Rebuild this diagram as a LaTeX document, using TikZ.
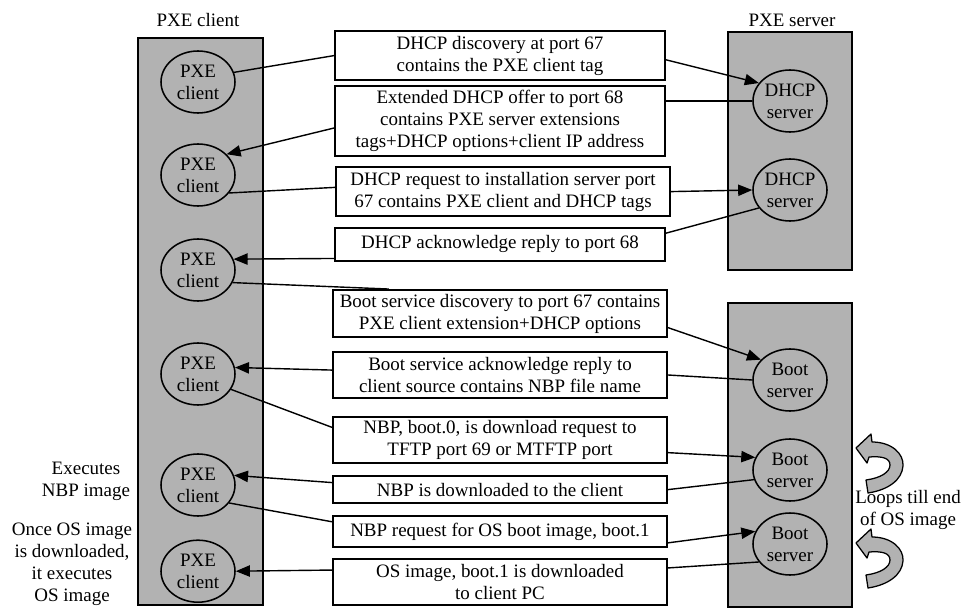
\documentclass[tikz,border=0pt]{standalone}
\usepackage{fontspec}
\setmainfont{Liberation Serif}
\usetikzlibrary{shapes.geometric, arrows.meta}

\begin{document}
\begin{tikzpicture}[
    font=\fontsize{13.5}{15.6}\selectfont,
    col/.style={draw, line width=1.5pt, fill=black!30},
    host/.style={draw, ellipse, line width=1.1pt, minimum width=1.85cm, minimum height=1.55cm, inner sep=0pt, align=center},
    msg/.style={draw, line width=1.5pt, fill=white, minimum width=8.25cm, inner sep=1pt, align=center},
    link/.style={line width=1pt},
    flow/.style={link, -{Triangle[length=10pt, width=8pt]}},
    loopmark/.style={draw, line width=0.9pt, fill=black!30, line join=round}
]
\useasboundingbox (0, 0) rectangle (24.1, -15.275);

\draw[col] (3.45, -0.95) rectangle (6.575, -15.125);
\draw[col] (18.2, -0.8) rectangle (21.3, -6.75);
\draw[col] (18.2, -7.575) rectangle (21.3, -15.175);

\node (clienttitle) at (4.95, -0.5) {PXE client};
\node (servertitle) at (19.8, -0.5) {PXE server};

\node[host] (c1) at (4.95, -2.05) {PXE\\client};
\node[host] (c2) at (4.95, -4.375) {PXE\\client};
\node[host] (c3) at (4.95, -6.75) {PXE\\client};
\node[host] (c4) at (4.95, -9.35) {PXE\\client};
\node[host] (c5) at (4.95, -12.125) {PXE\\client};
\node[host] (c6) at (4.95, -14.28) {PXE\\client};

\node[host] (s1) at (19.75, -2.525) {DHCP\\server};
\node[host] (s2) at (19.75, -4.75) {DHCP\\server};
\node[host] (t1) at (19.75, -9.5) {Boot\\server};
\node[host] (t2) at (19.75, -11.75) {Boot\\server};
\node[host] (t3) at (19.75, -13.6) {Boot\\server};

\node[msg, minimum height=1.225cm] (b1) at (12.5, -1.39) {DHCP discovery at port 67\\contains the PXE client tag};
\node[msg, minimum height=1.75cm] (b2) at (12.5, -3.025) {Extended DHCP offer to port 68\\contains PXE server extensions\\tags+DHCP options+client IP address};
\node[msg, minimum height=1.225cm, minimum width=8.35cm] (b3) at (12.575, -4.79) {DHCP request to installation server port\\67 contains PXE client and DHCP tags};
\node[msg, minimum height=0.825cm] (b4) at (12.5, -6.11) {DHCP acknowledge reply to port 68};
\node[msg, minimum height=1.175cm, minimum width=8.35cm] (b5) at (12.5, -7.84) {Boot service discovery to port 67 contains\\PXE client extension+DHCP options};
\node[msg, minimum height=1.15cm, minimum width=8.35cm] (b6) at (12.5, -9.375) {Boot service acknowledge reply to\\client source contains NBP file name};
\node[msg, minimum height=1.15cm, minimum width=8.35cm] (b7) at (12.5, -11.0) {NBP, boot.0, is download request to\\TFTP port 69 or MTFTP port};
\node[msg, minimum height=0.675cm, minimum width=8.35cm] (b8) at (12.5, -12.24) {NBP is downloaded to the client};
\node[msg, minimum height=0.775cm, minimum width=8.35cm] (b9) at (12.5, -13.29) {NBP request for OS boot image, boot.1};
\node[msg, minimum height=1.15cm, minimum width=8.35cm] (b10) at (12.5, -14.55) {OS image, boot.1 is downloaded\\to client PC};

\node[align=center] (nbpnote) at (2.15, -12.04) {Executes\\NBP image};
\node[align=center] (osnote) at (1.8, -14.1) {Once OS image\\is downloaded,\\it executes\\OS image};
\node[align=center] (loopnote) at (22.7, -12.75) {Loops till end\\of OS image};

\draw[link] (c1.15) -- (b1.west);
\draw[flow] ([yshift=-3pt]b1.east) -- (s1.150);
\draw[link] (s1.west) -- (s1.west -| b2.east);
\draw[flow] ([yshift=-5pt]b2.west) -- (c2.36);
\draw[link] (c2.-30) -- ([yshift=3pt]b3.west);
\draw[flow] (b3.east) -- (s2.west);
\draw[link] (s2.210) -- ([yshift=8pt]b4.east);
\draw[flow] ([yshift=-10pt]b4.west) -- (c3.17);
\draw[link] (c3.-20) -- ([xshift=1.425cm]b5.north west);
\draw[flow] ([yshift=-10pt]b5.east) -- (t1.145);
\draw[link] (t1.west) -- (b6.east);
\draw[flow] ([yshift=3.5pt]b6.west) -- (c4.10);
\draw[link] (c4.-25) -- ([yshift=9pt]b7.west);
\draw[flow] ([yshift=-9pt]b7.east) -- (t2.160);
\draw[link] (t2.195) -- (b8.east);
\draw[flow] ([yshift=5pt]b8.west) -- (c5.15);
\draw[link] (c5.-30) -- ([yshift=7pt]b9.west);
\draw[flow] ([yshift=-8pt]b9.east) -- (t3.160);
\draw[link] (t3.210) -- ([yshift=10pt]b10.east);
\draw[flow] ([yshift=8.5pt]b10.west) -- (c6.east);

\foreach \ty in {-11.2, -13.575}
{
\begin{scope}[shift={(21.4cm, \ty cm)}, x=0.025cm, y=-0.025cm]
\draw[loopmark] (0, 0) -- (15, -14) -- (16, -6) .. controls (36, -6) and (48, 6) .. (47, 18) .. controls (46, 32) and (32, 42) .. (12, 45) -- (10, 32) .. controls (25, 30) and (34, 24) .. (34, 17) .. controls (34, 10) and (26, 8) .. (13, 9) -- (11, 15) -- cycle;
\end{scope}
}
\end{tikzpicture}
\end{document}
